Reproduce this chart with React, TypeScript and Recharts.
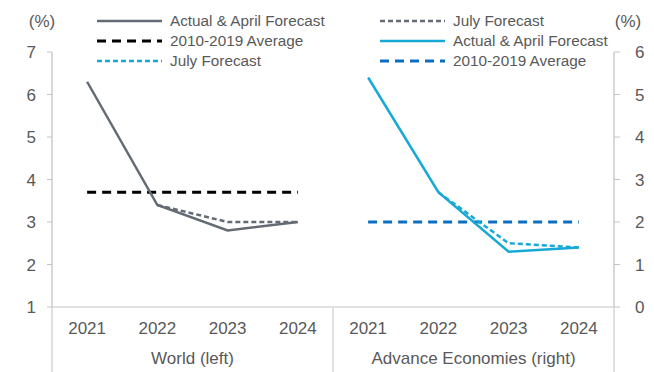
import React from 'react';
import { LineChart, Line, XAxis, YAxis } from 'recharts';

const years = ['2021', '2022', '2023', '2024'];
const groups = ['World (left)', 'Advance Economies (right)'];

// World, left axis
const worldActual = [6.3, 3.4, 2.8, 3.0];
const worldJuly = [null, 3.4, 3.0, 3.0];
const worldAvg = [3.7, 3.7, 3.7, 3.7];

// Advance economies, right axis
const aeActual = [5.4, 2.7, 1.3, 1.4];
const aeJuly = [null, 2.7, 1.5, 1.4];
const aeAvg = [2.0, 2.0, 2.0, 2.0];

const leftTicks = [1, 2, 3, 4, 5, 6, 7];
const rightTicks = [0, 1, 2, 3, 4, 5, 6];

const n = years.length;
const data = [...years, ...years].map((_, i) => {
  const w = i < n;
  const j = i % n;
  return {
    x: i,
    worldActual: w ? worldActual[j] : null,
    worldJuly: w ? worldJuly[j] : null,
    worldAvg: w ? worldAvg[j] : null,
    aeActual: w ? null : aeActual[j],
    aeJuly: w ? null : aeJuly[j],
    aeAvg: w ? null : aeAvg[j],
  };
});

// integer ticks = years, x.5 ticks = group labels / separators
const xTicks = [-0.5, 0, 1, 1.5, 2, 3, 3.5, 4, 5, 5.5, 6, 7, 7.5];

const GRAY = '#646b75';
const CYAN = '#17a9d6';
const BLUE = '#0a6fc2';
const TEXT = '#595959';
const FONT = '"Liberation Sans", Arial, sans-serif';

const legendItems = [
  { name: 'Actual & April Forecast', color: GRAY, dash: undefined, width: 2.5 },
  { name: 'July Forecast', color: GRAY, dash: '5 3', width: 2.5 },
  { name: '2010-2019 Average', color: '#000000', dash: '9 6', width: 3 },
  { name: 'Actual & April Forecast', color: CYAN, dash: undefined, width: 2.5 },
  { name: 'July Forecast', color: CYAN, dash: '5 3', width: 2.5 },
  { name: '2010-2019 Average', color: BLUE, dash: '9 6', width: 3 },
];

function XTick(props: any) {
  const { x, y, payload } = props;
  const v = payload.value;
  if (Number.isInteger(v)) {
    return (
      <text x={x} y={y + 21} textAnchor="middle" dominantBaseline="central" fill={TEXT} fontSize={17}>
        {years[v % n]}
      </text>
    );
  }
  if (v === 1.5 || v === 5.5) {
    return (
      <text x={x} y={y + 51} textAnchor="middle" dominantBaseline="central" fill={TEXT} fontSize={17}>
        {groups[v === 1.5 ? 0 : 1]}
      </text>
    );
  }
  return <line x1={x} x2={x} y1={y} y2={y + 70} stroke="#cfcfcf" strokeWidth={1.3} />;
}

function PctLabel(props: any) {
  const { viewBox, side } = props;
  const x = side === 'left' ? viewBox.x + viewBox.width - 10 : viewBox.x + 14;
  return (
    <text x={x} y={viewBox.y - 31} textAnchor="middle" dominantBaseline="central" fill={TEXT} fontSize={17}>
      (%)
    </text>
  );
}

export default function App() {
  return (
    <div style={{ position: 'absolute', left: 0, top: 0, width: 654, height: 372, background: '#fff', fontFamily: FONT }}>
      <LineChart width={654} height={372} data={data} margin={{ top: 52, right: 0, bottom: 0, left: 0 }}>
        <XAxis
          dataKey="x"
          type="number"
          domain={[-0.5, 7.5]}
          ticks={xTicks}
          interval={0}
          height={65}
          tickSize={0}
          tickMargin={0}
          tickLine={false}
          axisLine={{ stroke: '#d9d9d9', strokeWidth: 1.3 }}
          tick={<XTick />}
        />
        <YAxis
          yAxisId="left"
          domain={[1, 7]}
          ticks={leftTicks}
          width={52}
          tickSize={5}
          tickMargin={11}
          axisLine={{ stroke: '#c4c4c4', strokeWidth: 1.3 }}
          tickLine={{ stroke: '#c4c4c4' }}
          tick={{ fill: TEXT, fontSize: 17 }}
          label={<PctLabel side="left" />}
        />
        <YAxis
          yAxisId="right"
          orientation="right"
          domain={[0, 6]}
          ticks={rightTicks}
          width={40}
          tickSize={6}
          tickMargin={15}
          axisLine={{ stroke: '#c4c4c4', strokeWidth: 1.3 }}
          tickLine={{ stroke: '#c4c4c4' }}
          tick={{ fill: TEXT, fontSize: 17, textAnchor: 'start' }}
          label={<PctLabel side="right" />}
        />
        <Line yAxisId="left" dataKey="worldAvg" stroke="#000" strokeWidth={3} strokeDasharray="9 6" dot={false} isAnimationActive={false} />
        <Line yAxisId="left" dataKey="worldActual" stroke={GRAY} strokeWidth={2.5} dot={false} isAnimationActive={false} />
        <Line yAxisId="left" dataKey="worldJuly" stroke={GRAY} strokeWidth={2.5} strokeDasharray="5 3" dot={false} isAnimationActive={false} />
        <Line yAxisId="right" dataKey="aeAvg" stroke={BLUE} strokeWidth={3} strokeDasharray="9 6" dot={false} isAnimationActive={false} />
        <Line yAxisId="right" dataKey="aeActual" stroke={CYAN} strokeWidth={2.5} dot={false} isAnimationActive={false} />
        <Line yAxisId="right" dataKey="aeJuly" stroke={CYAN} strokeWidth={2.5} strokeDasharray="5 3" dot={false} isAnimationActive={false} />
      </LineChart>

      <div
        style={{
          position: 'absolute',
          left: 97,
          top: 11,
          display: 'grid',
          gridTemplateColumns: '283px 240px',
          gridAutoRows: '20px',
          color: TEXT,
          fontSize: 15.3,
        }}
      >
        {legendItems.map((it, i) => (
          <div key={i} style={{ display: 'flex', alignItems: 'center', whiteSpace: 'nowrap' }}>
            <svg width={65} height={10} style={{ marginRight: 8 }}>
              <line x1={0} x2={65} y1={5} y2={5} stroke={it.color} strokeWidth={it.width} strokeDasharray={it.dash} />
            </svg>
            <span>{it.name}</span>
          </div>
        ))}
      </div>
    </div>
  );
}
